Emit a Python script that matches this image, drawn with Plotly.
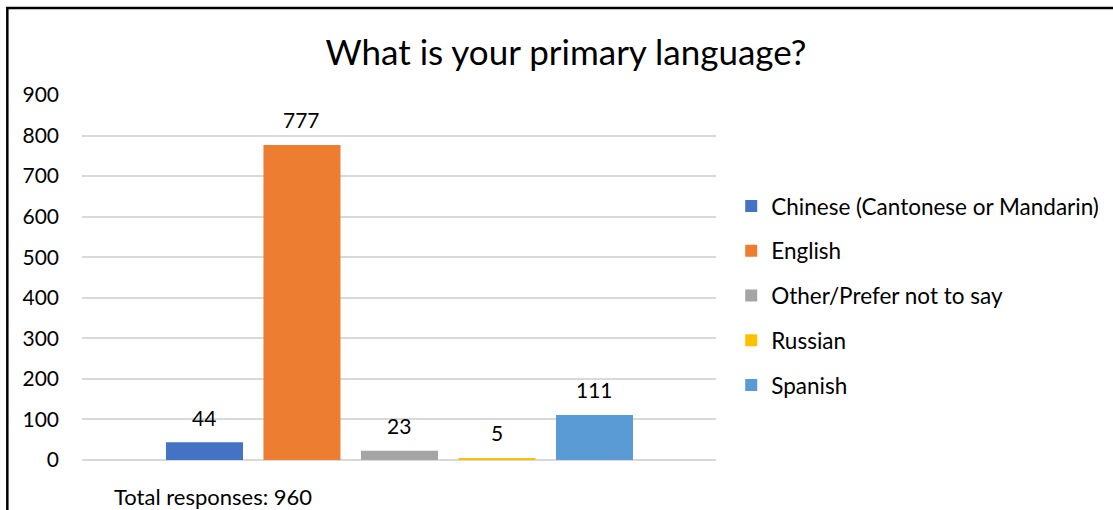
import plotly.graph_objects as go

# Survey answers: primary language
languages = ["Chinese (Cantonese or Mandarin)", "English", "Other/Prefer not to say", "Russian", "Spanish"]
responses = [44, 777, 23, 5, 111]
colors = ["#4472C4", "#ED7D31", "#A5A5A5", "#FFC000", "#5B9BD5"]
total_responses = 960
y_ticks = [0, 100, 200, 300, 400, 500, 600, 700, 800, 900]

FONT = "Lato, 'Open Sans', sans-serif"

fig = go.Figure()
for i, (lang, val, col) in enumerate(zip(languages, responses, colors)):
    fig.add_trace(go.Bar(
        x=[i], y=[val], name=lang, width=0.79,
        marker=dict(color=col, line=dict(width=0)),
        legendgroup=lang, hoverinfo="name+y",
    ))
    # value label above each bar
    fig.add_annotation(
        x=i, y=val, text=str(val), showarrow=False,
        yshift=25, yanchor="middle", xanchor="center",
        font=dict(family=FONT, size=21, color="#000000"),
    )

fig.add_annotation(
    xref="paper", yref="paper", x=0.047, y=-0.101,
    text=f"Total responses: {total_responses}", showarrow=False,
    xanchor="left", yanchor="middle",
    font=dict(family=FONT, size=22, color="#000000"),
)

# chart frame
fig.add_shape(
    type="rect", xref="paper", yref="paper",
    x0=-0.1178, y0=-0.6, x1=1.9, y1=1.2384,
    line=dict(color="#000000", width=2.5), fillcolor="rgba(0,0,0,0)",
    layer="above",
)

fig.update_layout(
    width=1113, height=510,
    margin=dict(l=82, r=397, t=95, b=50, autoexpand=False),
    paper_bgcolor="#FFFFFF", plot_bgcolor="#FFFFFF",
    barmode="overlay",
    title=dict(
        text="What is your primary language?",
        x=0.5085, xanchor="center", y=0.896, yanchor="middle",
        font=dict(family=FONT, size=35, color="#000000"),
    ),
    font=dict(family=FONT, color="#000000"),
    legend=dict(
        x=1.024, xanchor="left", y=0.45, yanchor="middle",
        font=dict(family=FONT, size=22.5, color="#000000"),
        tracegroupgap=12.5, traceorder="grouped",
        bgcolor="rgba(0,0,0,0)",
    ),
    showlegend=True,
)

fig.update_xaxes(
    range=[-1.256, 5.246], showticklabels=False, showgrid=False,
    zeroline=False, showline=False, ticks="",
)
fig.update_yaxes(
    range=[0, 900], tickvals=y_ticks, ticks="", ticklabelstandoff=22,
    showgrid=True, gridcolor="#D9D9D9", gridwidth=1.5,
    zeroline=True, zerolinecolor="#D9D9D9", zerolinewidth=1.5,
    showline=False,
    tickfont=dict(family=FONT, size=21, color="#000000"),
)

fig.write_html("out.html")
